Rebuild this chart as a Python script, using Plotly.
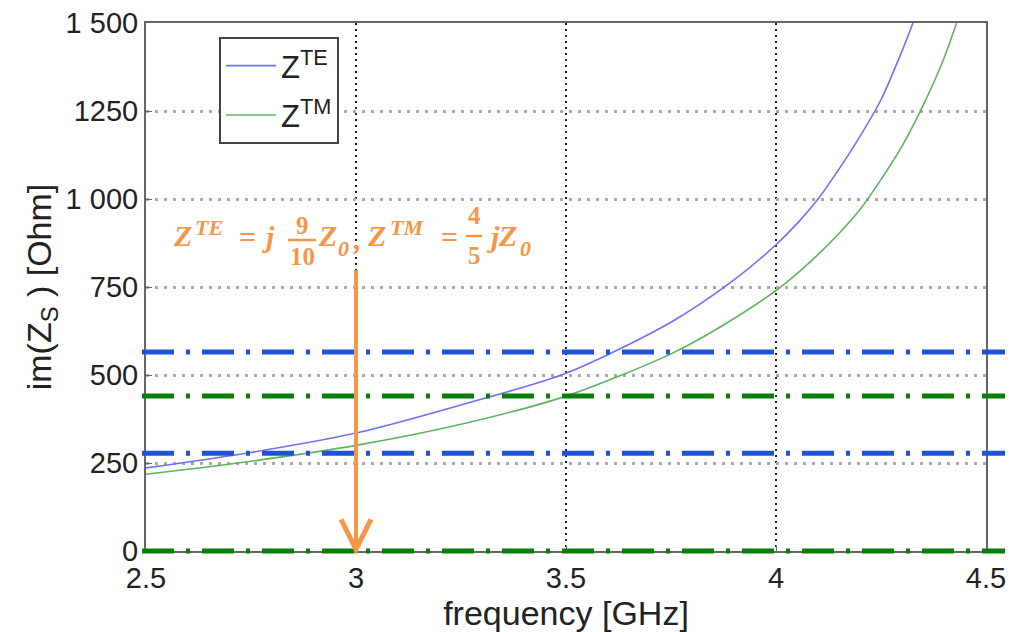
import plotly.graph_objects as go

# ---- data ----
freq_te = [2.5, 2.75, 3.0, 3.25, 3.5, 3.75, 3.9, 4.0, 4.05, 4.1, 4.15, 4.2, 4.25, 4.3, 4.326]
z_te = [236, 280, 335, 415, 505, 650, 770, 870, 930, 1000, 1085, 1178, 1282, 1420, 1500]

freq_tm = [2.5, 2.75, 3.0, 3.25, 3.5, 3.75, 3.875, 4.0, 4.05, 4.1, 4.15, 4.2, 4.25, 4.3, 4.35, 4.4, 4.43]
z_tm = [218, 255, 300, 360, 440, 560, 642, 740, 788, 842, 902, 970, 1055, 1150, 1265, 1400, 1500]

ref_levels = [565, 440, 278, 0]
ref_colors = ["#1f52d6", "#0b7d0b", "#1f52d6", "#0b7d0b"]

x_ticks = [2.5, 3, 3.5, 4, 4.5]
x_ticktext = ["2.5", "3", "3.5", "4", "4.5"]
y_ticks = [0, 250, 500, 750, 1000, 1250, 1500]
y_ticktext = ["0", "250", "500", "750", "1 000", "1250", "1 500"]

arrow_freq = 3.0
arrow_top = 798
arrow_bottom = 0

X_RANGE = [2.5, 4.5]
Y_RANGE = [0, 1500]

# plot area in screen pixels (page body has an 8px margin)
PL, PR, PT, PB = 146, 986, 23, 551
OFF = 8
W, H = 1022 - OFF, 632 - OFF


def px_x(f):
    return (f - X_RANGE[0]) / (X_RANGE[1] - X_RANGE[0])


def px_y(v):
    return (v - Y_RANGE[0]) / (Y_RANGE[1] - Y_RANGE[0])


def fx(p):
    return (p - PL) / (PR - PL)


def fy(p):
    return (PB - p) / (PB - PT)


FONT = "Liberation Sans, Arial, sans-serif"
ORANGE = "#f79646"

fig = go.Figure()
fig.add_trace(go.Scatter(x=freq_te, y=z_te, mode="lines", name="Z<sup>TE</sup>", legendgroup="te",
                         line=dict(color="#7070f5", width=1.6, shape="spline", smoothing=0.8)))
fig.add_trace(go.Scatter(x=freq_tm, y=z_tm, mode="lines", name="Z<sup>TM</sup>", legendgroup="tm",
                         line=dict(color="#5fb35f", width=1.6, shape="spline", smoothing=0.8)))

shapes = []
for lvl, col in zip(ref_levels, ref_colors):
    shapes.append(dict(type="line", xref="paper", yref="paper", x0=fx(142), x1=fx(1005),
                       y0=px_y(lvl), y1=px_y(lvl), layer="above",
                       line=dict(color=col, width=5, dash="32px,12px,4px,12px")))

# orange arrow
ax = px_x(arrow_freq)
tip = px_y(arrow_bottom) + 0.003
shapes.append(dict(type="line", xref="paper", yref="paper", x0=ax, x1=ax,
                   y0=px_y(arrow_top), y1=tip, layer="above",
                   line=dict(color=ORANGE, width=4)))
hw = 15 / (PR - PL)
hh = 30 / (PB - PT)
shapes.append(dict(type="path", xref="paper", yref="paper", layer="above",
                   path=f"M {ax-hw},{tip+hh} L {ax},{tip} L {ax+hw},{tip+hh}",
                   line=dict(color=ORANGE, width=5)))

# fraction bars
shapes.append(dict(type="line", xref="paper", yref="paper", x0=fx(288), x1=fx(316),
                   y0=fy(240), y1=fy(240), line=dict(color=ORANGE, width=2.5)))
shapes.append(dict(type="line", xref="paper", yref="paper", x0=fx(466), x1=fx(482),
                   y0=fy(236), y1=fy(236), line=dict(color=ORANGE, width=2.5)))

ann = []


def txt(s, px, py, size, xanchor="left", italic=True):
    body = f"<b><i>{s}</i></b>" if italic else f"<b>{s}</b>"
    ann.append(dict(text=body, xref="paper", yref="paper",
                    x=fx(px), y=fy(py), xanchor=xanchor, yanchor="middle",
                    showarrow=False,
                    font=dict(family="Liberation Serif, serif", size=size, color=ORANGE)))


MAIN, SMALL, DIG = 30, 22, 25
txt("Z", 171, 235, MAIN)
txt("TE", 193, 227, SMALL)
txt("=", 247, 236, MAIN, "center", italic=False)
txt("j", 260, 236, MAIN)
txt("9", 302, 225, DIG, "center", italic=False)
txt("10", 302, 256, DIG, "center", italic=False)
txt("Z", 316, 235, MAIN)
txt("0", 336, 249, SMALL)
txt(",", 351, 238, MAIN)
txt("Z", 365, 235, MAIN)
txt("TM", 388, 227, SMALL)
txt("=", 449, 236, MAIN, "center", italic=False)
txt("4", 474, 216, DIG, "center", italic=False)
txt("5", 474, 255, DIG, "center", italic=False)
txt("j", 485, 236, MAIN)
txt("Z", 496, 235, MAIN)
txt("0", 518, 249, SMALL)

fig.update_layout(
    width=W, height=H,
    margin=dict(l=PL - OFF, r=1022 - PR, t=PT - OFF, b=632 - PB),
    paper_bgcolor="white", plot_bgcolor="white",
    font=dict(family=FONT, size=29, color="#222"),
    shapes=shapes, annotations=ann,
    showlegend=True,
    legend=dict(x=fx(219), y=fy(37), xanchor="left", yanchor="top",
                bgcolor="white", bordercolor="#444", borderwidth=2,
                font=dict(family=FONT, size=31, color="#222"),
                itemwidth=50, tracegroupgap=6),
    xaxis=dict(range=X_RANGE, tickvals=x_ticks, ticktext=x_ticktext,
               showline=True, mirror=True, linecolor="#666", linewidth=2,
               ticks="inside", ticklen=6, tickcolor="#666",
               showgrid=True, gridcolor="#222", gridwidth=1.5, griddash="2px,4px",
               zeroline=False, ticklabelstandoff=0, ticklabeloverflow="allow",
               automargin=False, tickfont=dict(size=29),
               title=dict(text="frequency [GHz]", standoff=0, font=dict(size=34))),
    yaxis=dict(range=Y_RANGE, tickvals=y_ticks, ticktext=y_ticktext,
               showline=True, mirror=True, linecolor="#666", linewidth=2,
               ticks="inside", ticklen=6, tickcolor="#666",
               showgrid=True, gridcolor="#aaa", gridwidth=2.5, griddash="3px,6px",
               zeroline=False, ticklabelstandoff=0, ticklabeloverflow="allow",
               automargin=False, tickfont=dict(size=29),
               title=dict(text="im(Z<sub>S</sub> ) [Ohm]", standoff=4, font=dict(size=34))),
)

fig.write_html("out.html")
